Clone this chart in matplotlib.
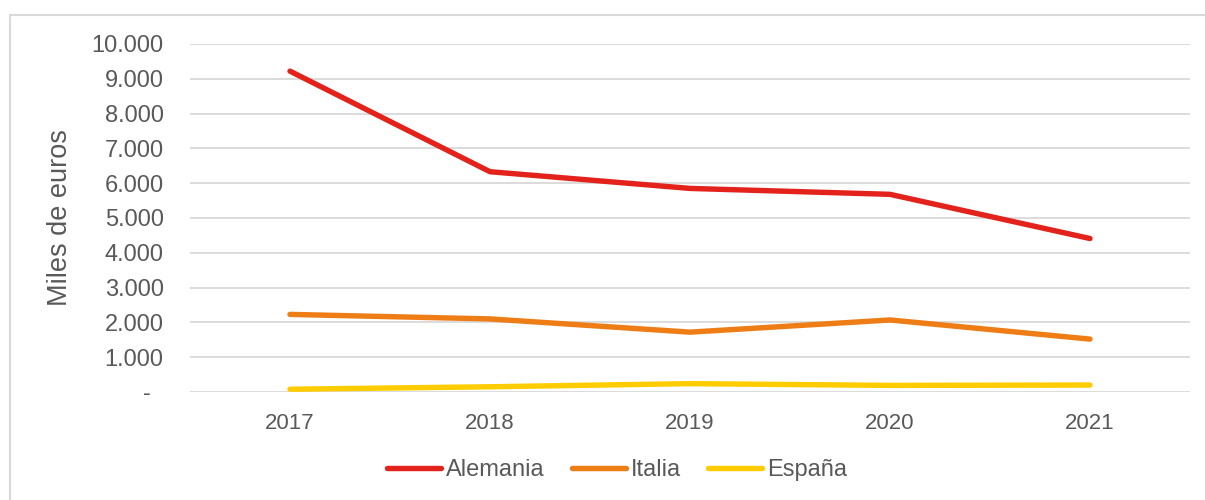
import matplotlib
matplotlib.use('Agg')
import matplotlib.pyplot as plt
from matplotlib.patches import Rectangle
from matplotlib.ticker import FuncFormatter

years = ['2017', '2018', '2019', '2020', '2021']
alemania = [9220, 6330, 5850, 5680, 4410]
italia = [2230, 2100, 1720, 2070, 1520]
espana = [80, 150, 240, 190, 200]

series_names = ['Alemania', 'Italia', 'España']
colores = ['#E3231B', '#EE7D15', '#FFCC00']

plt.rcParams['font.family'] = ['Liberation Sans', 'DejaVu Sans']
gris = '#595959'

fig = plt.figure(figsize=(12.05, 5), dpi=100)
ax = fig.add_axes([190 / 1205, 1 - 392 / 500, 1000 / 1205, 348 / 500])

x = list(range(len(years)))
for datos, nombre, col in zip([alemania, italia, espana], series_names, colores):
    ax.plot(x, datos, color=col, lw=3.9, label=nombre,
            solid_capstyle='round', solid_joinstyle='round', zorder=3)

ax.set_xlim(-0.5, len(years) - 0.5)
ax.set_ylim(0, 10000)
ax.set_xticks(x)
ax.set_xticklabels(years)
ax.set_yticks(range(0, 10001, 1000))


def fmt(v, pos):
    if v == 0:
        return '-  '
    return f'{int(v):,}'.replace(',', '.')


ax.yaxis.set_major_formatter(FuncFormatter(fmt))
ax.tick_params(axis='x', length=0, colors=gris, labelsize=16, pad=15)
ax.tick_params(axis='y', length=0, colors=gris, labelsize=17, pad=19)
ax.grid(axis='y', color='#D9D9D9', lw=1.3, zorder=0)
for s in ax.spines.values():
    s.set_visible(False)

ax.set_ylabel('Miles de euros', color=gris, fontsize=19.5)
ax.yaxis.set_label_coords(-0.117, 0.5)

fig.legend(loc='center', bbox_to_anchor=(617 / 1205, 1 - 470 / 500), ncol=3,
           frameon=False, fontsize=17, labelcolor=gris, handlelength=2.3,
           handletextpad=0.2, columnspacing=1.15)

fig.patches.append(Rectangle((10 / 1205, -0.05), 1.2, 1.05 - 15 / 500,
                             transform=fig.transFigure, fill=False,
                             edgecolor='#D9D9D9', lw=1.5))

fig.savefig('out.png', dpi=100)
